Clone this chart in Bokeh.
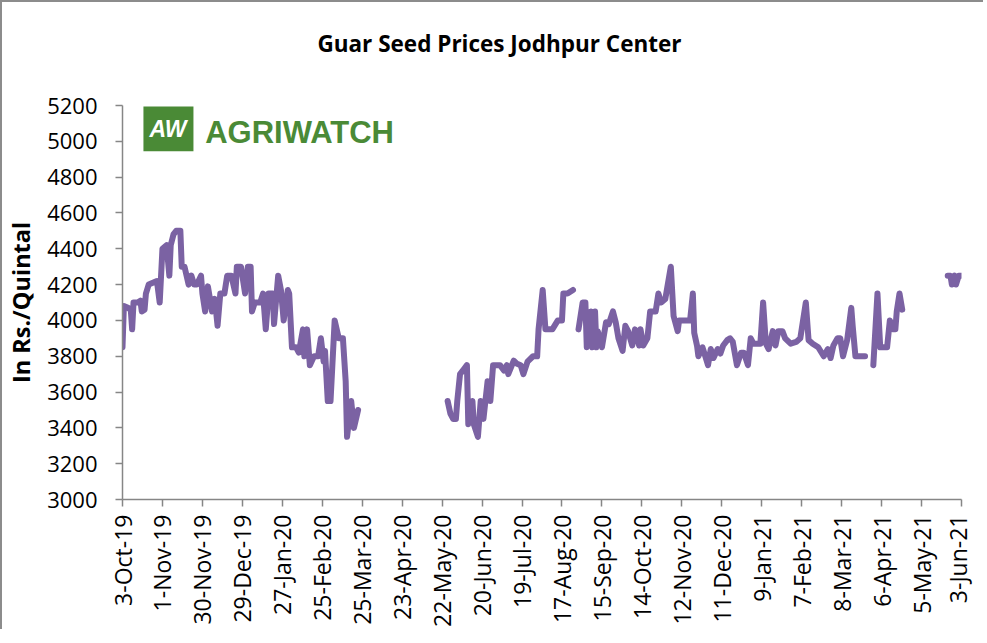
import numpy as np
import pandas as pd
from bokeh.plotting import figure
from bokeh.layouts import column
from bokeh.models import (Range1d, FixedTicker, CustomJSTickFormatter, BoxAnnotation,
                          Label, ColumnDataSource, Div)
from bokeh.embed import file_html
from bokeh.resources import INLINE

NAN = float("nan")

# ---- data (NaN marks gaps in the series) ----
dates = [
    "2019-10-03", "2019-10-04", "2019-10-07", "2019-10-09", "2019-10-10", "2019-10-11",
    "2019-10-14", "2019-10-16", "2019-10-17", "2019-10-19", "2019-10-20", "2019-10-22",
    "2019-10-25", "2019-10-28", "2019-10-30", "2019-11-01", "2019-11-04", "2019-11-06",
    "2019-11-07", "2019-11-09", "2019-11-11", "2019-11-14", "2019-11-15", "2019-11-17",
    "2019-11-20", "2019-11-22", "2019-11-24", "2019-11-26", "2019-11-29", "2019-11-30",
    "2019-12-02", "2019-12-04", "2019-12-07", "2019-12-09", "2019-12-11", "2019-12-13",
    "2019-12-16", "2019-12-18", "2019-12-21", "2019-12-24", "2019-12-25", "2019-12-28",
    "2019-12-31", "2020-01-02", "2020-01-04", "2020-01-05", "2020-01-07", "2020-01-11",
    "2020-01-13", "2020-01-15", "2020-01-17", "2020-01-20", "2020-01-21", "2020-01-24",
    "2020-01-26", "2020-01-28", "2020-01-31", "2020-02-01", "2020-02-03", "2020-02-06",
    "2020-02-08", "2020-02-11", "2020-02-12", "2020-02-14", "2020-02-16", "2020-02-19",
    "2020-02-22", "2020-02-24", "2020-02-26", "2020-02-27", "2020-02-29", "2020-03-02",
    "2020-03-05", "2020-03-08", "2020-03-11", "2020-03-13", "2020-03-14", "2020-03-17",
    "2020-03-19", "2020-03-22", "2020-04-20",
    "2020-05-26", "2020-05-28", "2020-05-30", "2020-06-01", "2020-06-02", "2020-06-04",
    "2020-06-07", "2020-06-09", "2020-06-10", "2020-06-13", "2020-06-14", "2020-06-17",
    "2020-06-19", "2020-06-21", "2020-06-24", "2020-06-26", "2020-06-28", "2020-07-03",
    "2020-07-06", "2020-07-08", "2020-07-09", "2020-07-13", "2020-07-15", "2020-07-18",
    "2020-07-20", "2020-07-23", "2020-07-27", "2020-07-30", "2020-07-31", "2020-08-03",
    "2020-08-05", "2020-08-10", "2020-08-14", "2020-08-17", "2020-08-18", "2020-08-21",
    "2020-08-25", "2020-08-27",
    "2020-08-29", "2020-09-01", "2020-09-03", "2020-09-04", "2020-09-07", "2020-09-08",
    "2020-09-10", "2020-09-11", "2020-09-12", "2020-09-15", "2020-09-18", "2020-09-20",
    "2020-09-23", "2020-09-25", "2020-09-27", "2020-09-30", "2020-10-02", "2020-10-04",
    "2020-10-07", "2020-10-09", "2020-10-12", "2020-10-13", "2020-10-15", "2020-10-18",
    "2020-10-20", "2020-10-24", "2020-10-26", "2020-10-28", "2020-10-31", "2020-11-04",
    "2020-11-06", "2020-11-09", "2020-11-10", "2020-11-15", "2020-11-18", "2020-11-20",
    "2020-11-21", "2020-11-23", "2020-11-24", "2020-11-27", "2020-11-29", "2020-12-01",
    "2020-12-03", "2020-12-05", "2020-12-08", "2020-12-10", "2020-12-12", "2020-12-15",
    "2020-12-17", "2020-12-19", "2020-12-22", "2020-12-25", "2020-12-27", "2020-12-30",
    "2021-01-01", "2021-01-03", "2021-01-08", "2021-01-10", "2021-01-12", "2021-01-14",
    "2021-01-17", "2021-01-19", "2021-01-21", "2021-01-24", "2021-01-26", "2021-01-30",
    "2021-02-03", "2021-02-06", "2021-02-10", "2021-02-12", "2021-02-15", "2021-02-19",
    "2021-02-23", "2021-02-26", "2021-02-28", "2021-03-02", "2021-03-05", "2021-03-07",
    "2021-03-09", "2021-03-12", "2021-03-15", "2021-03-16", "2021-03-18", "2021-03-25",
    "2021-03-28",
    "2021-03-31", "2021-04-03", "2021-04-05", "2021-04-10", "2021-04-12", "2021-04-14",
    "2021-04-16", "2021-04-17", "2021-04-19", "2021-04-21", "2021-05-10",
    "2021-05-24", "2021-05-26", "2021-05-27", "2021-05-29", "2021-05-30", "2021-06-01",
    "2021-06-03",
]
prices = [
    3850, 4080, 4070, 4060, 3950, 4100,
    4100, 4110, 4050, 4060, 4150, 4200,
    4210, 4220, 4100, 4400, 4420, 4250,
    4420, 4480, 4500, 4500, 4300, 4300,
    4200, 4250, 4200, 4200, 4250, 4150,
    4050, 4190, 4050, 4120, 3970, 4150,
    4150, 4250, 4250, 4150, 4300, 4300,
    4150, 4300, 4300, 4050, 4100, 4100,
    4150, 3950, 4150, 4150, 3980, 4250,
    4170, 4000, 4170, 4150, 3850, 3850,
    3820, 3950, 3800, 3950, 3750, 3800,
    3800, 3900, 3770, 3830, 3550, 3550,
    4000, 3900, 3900, 3660, 3350, 3550,
    3400, 3500, NAN,
    3550, 3480, 3450, 3450, 3550, 3700,
    3730, 3750, 3420, 3550, 3420, 3350,
    3550, 3450, 3660, 3550, 3750, 3750,
    3720, 3750, 3700, 3775, 3760, 3750,
    3700, 3770, 3800, 3800, 3950, 4170,
    3950, 3950, 4000, 4000, 4150, 4150,
    4170, NAN,
    3950, 4100, 4100, 3850, 4050, 3850,
    4050, 3850, 3940, 3850, 3990, 3980,
    4050, 3990, 3900, 3830, 3970, 3940,
    3860, 3950, 3860, 3950, 3860, 3900,
    4050, 4050, 4150, 4100, 4120, 4300,
    4025, 3940, 4000, 4000, 4000, 4150,
    3930, 3860, 3800, 3850, 3800, 3750,
    3840, 3790, 3840, 3815, 3860, 3890,
    3900, 3880, 3750, 3820, 3820, 3750,
    3900, 3870, 3870, 4100, 3870, 3840,
    3940, 3860, 3940, 3940, 3900, 3870,
    3880, 3900, 4100, 3890, 3870, 3850,
    3800, 3840, 3790, 3860, 3900, 3900,
    3800, 3890, 4070, 3970, 3800, 3800,
    NAN,
    3750, 4150, 3850, 3850, 4000, 3950,
    3950, 4050, 4150, 4060, NAN,
    4250, 4250, 4200, 4250, 4200, 4250,
    4250,
]

tick_dates = ["2019-10-03", "2019-11-01", "2019-11-30", "2019-12-29", "2020-01-27",
              "2020-02-25", "2020-03-25", "2020-04-23", "2020-05-22", "2020-06-20",
              "2020-07-19", "2020-08-17", "2020-09-15", "2020-10-14", "2020-11-12",
              "2020-12-11", "2021-01-09", "2021-02-07", "2021-03-08", "2021-04-06",
              "2021-05-05", "2021-06-03"]
y_ticks = [3000, 3200, 3400, 3600, 3800, 4000, 4200, 4400, 4600, 4800, 5000, 5200]
title_text = "Guar Seed Prices Jodhpur Center"

# ---- figure ----
def ms(ts):
    return pd.Timestamp(ts).value / 1e6

DAY = 864e5
x_start = ms(tick_dates[0])
x_end = ms(tick_dates[-1])

src = ColumnDataSource(dict(date=pd.to_datetime(dates), price=prices))

TITLE_H = 74
p = figure(width=971, height=543, x_axis_type="datetime", output_backend="svg",
           toolbar_location=None, x_range=Range1d(x_start, x_end),
           y_range=Range1d(y_ticks[0], y_ticks[-1]),
           min_border_left=120, min_border_right=12, min_border_top=19,
           min_border_bottom=127)
p.background_fill_color = "white"
p.border_fill_color = "white"
p.outline_line_color = None
p.xgrid.visible = False
p.ygrid.visible = False

p.line("date", "price", source=src, line_color="#7B62A3", line_width=6,
       line_join="round", line_cap="round")

axis_color = "#868686"
for ax in (p.xaxis[0], p.yaxis[0]):
    ax.axis_line_color = axis_color
    ax.axis_line_width = 1.5
    ax.major_tick_line_color = axis_color
    ax.major_tick_line_width = 1.5
    ax.major_tick_in = 0
    ax.major_tick_out = 7
    ax.minor_tick_line_color = None
    ax.major_label_text_font = "Open Sans"
    ax.major_label_text_color = "black"

p.xaxis.major_label_text_font_size = "23px"
p.yaxis.major_label_text_font_size = "22px"

p.xaxis.ticker = FixedTicker(ticks=[ms(t) for t in tick_dates])
p.xaxis.formatter = CustomJSTickFormatter(code="""
const M = ["Jan","Feb","Mar","Apr","May","Jun","Jul","Aug","Sep","Oct","Nov","Dec"];
const d = new Date(tick);
return d.getUTCDate() + "-" + M[d.getUTCMonth()] + "-" + String(d.getUTCFullYear()).slice(2);
""")
p.xaxis.major_label_orientation = np.pi / 2
p.xaxis.major_label_standoff = 8

p.yaxis.ticker = FixedTicker(ticks=y_ticks)
p.yaxis.major_label_standoff = 18
p.yaxis.axis_label = "In Rs./Quintal"
p.yaxis.axis_label_text_font = "Open Sans"
p.yaxis.axis_label_text_font_size = "23.5px"
p.yaxis.axis_label_text_font_style = "bold"
p.yaxis.axis_label_text_color = "black"
p.yaxis.axis_label_standoff = 7

# ---- logo ----
green = "#4A8A36"
p.add_layout(BoxAnnotation(left=x_start + 15.2 * DAY, right=x_start + 51.5 * DAY,
                           top=5194, bottom=4945, fill_color=green, fill_alpha=1,
                           line_color=None))
p.add_layout(Label(x=x_start + 33 * DAY, y=5068, text="AW", text_align="center",
                   text_baseline="middle", text_color="white", text_font="Liberation Sans",
                   text_font_style="bold italic", text_font_size="23px"))
p.add_layout(Label(x=x_start + 60 * DAY, y=5048, text="AGRIWATCH", text_align="left",
                   text_baseline="middle", text_color=green, text_font="Liberation Sans",
                   text_font_style="bold", text_font_size="31px"))

# ---- title block ----
title = Div(text=f'<div style="position:relative; left:7px; text-align:center; '
                 f'width:971px; line-height:{TITLE_H}px;">{title_text}</div>',
            width=971, height=TITLE_H,
            styles={"font-family": "Open Sans", "font-size": "22.5px",
                    "font-weight": "bold", "color": "black", "background": "white"})

layout = column(title, p, spacing=0,
                styles={"border-left": "2px solid #8c8c8c", "border-top": "2px solid #8c8c8c",
                        "background": "white"})

open("out.html", "w").write(file_html(layout, INLINE))
